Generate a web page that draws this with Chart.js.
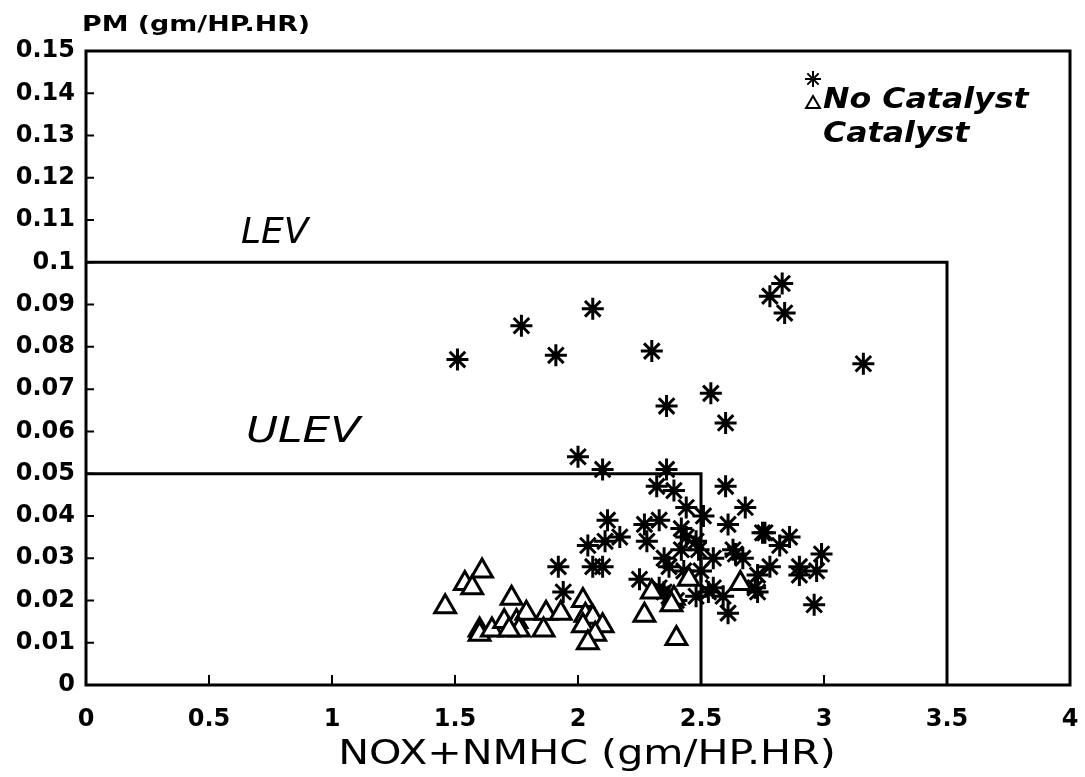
<!DOCTYPE html>
<html>
<head>
<meta charset="utf-8">
<title>PM vs NOX+NMHC</title>
<script src="https://cdn.jsdelivr.net/npm/chart.js@4.4.1/dist/chart.umd.min.js"></script>
<style>
    html, body { margin: 0; padding: 0; background: #fff; overflow: hidden; }
    #wrap { position: absolute; left: 0; top: 0; width: 1085px; height: 777px; }
</style>
</head>
<body>
<div id="wrap"><canvas id="emissionChart"></canvas></div>
<script>
/* ===== DATA ===== */
// No Catalyst (asterisks)
const noCatX = [1.51, 1.77, 1.91, 2.06, 2.30, 2.36, 2.54, 2.60, 3.16, 2.78, 2.84, 2.83,
    2.00, 2.10, 2.36, 2.32, 2.39, 2.60, 2.44, 2.51, 2.68, 2.61, 2.75, 2.12, 2.17, 2.11,
    2.10, 2.27, 2.33, 2.28, 2.42, 2.44, 2.49, 2.35, 2.37, 2.43, 2.50, 2.25, 2.35, 2.40,
    2.48, 2.55, 2.59, 2.61, 2.64, 2.72, 2.86, 2.82, 2.99, 2.90, 2.97, 2.90, 2.78, 2.73,
    2.73, 2.96, 2.67, 2.63, 2.04, 2.06, 1.92, 1.94, 2.48, 2.53, 2.37, 2.33, 2.55, 2.42, 2.76];
const noCatY = [0.077, 0.085, 0.078, 0.089, 0.079, 0.066, 0.069, 0.062, 0.076, 0.092, 0.088, 0.095,
    0.054, 0.051, 0.051, 0.047, 0.046, 0.047, 0.042, 0.040, 0.042, 0.038, 0.036, 0.039, 0.035, 0.034,
    0.028, 0.038, 0.039, 0.034, 0.037, 0.035, 0.032, 0.030, 0.028, 0.027, 0.027, 0.025, 0.022, 0.020,
    0.021, 0.023, 0.021, 0.017, 0.031, 0.023, 0.035, 0.033, 0.031, 0.028, 0.027, 0.026, 0.028, 0.026,
    0.022, 0.019, 0.030, 0.032, 0.033, 0.028, 0.028, 0.022, 0.034, 0.022, 0.021, 0.023, 0.030, 0.032, 0.036];

// Catalyst (triangles)
const catX = [1.46, 1.54, 1.57, 1.61, 1.60, 1.60, 1.65, 1.73, 1.70, 1.75, 1.79, 1.76, 1.72, 1.87, 1.86,
    1.93, 2.02, 2.03, 2.06, 2.02, 2.10, 2.07, 2.04, 2.27, 2.40, 2.30, 2.66, 2.39, 2.38, 2.45];
const catY = [0.0185, 0.024, 0.023, 0.027, 0.013, 0.012, 0.013, 0.0205, 0.015, 0.015, 0.017, 0.013, 0.013, 0.017, 0.013,
    0.017, 0.020, 0.0165, 0.016, 0.014, 0.014, 0.012, 0.010, 0.0165, 0.011, 0.022, 0.024, 0.0205, 0.019, 0.025];

// Standard limit boxes
const levX = [0, 3.5, 3.5];
const levY = [0.1, 0.1, 0];
const ulevX = [0, 2.5, 2.5];
const ulevY = [0.05, 0.05, 0];

// Tick labels
const xTickLabels = ['0', '0.5', '1', '1.5', '2', '2.5', '3', '3.5', '4'];
const yTickLabels = ['0', '0.01', '0.02', '0.03', '0.04', '0.05', '0.06', '0.07', '0.08',
    '0.09', '0.1', '0.11', '0.12', '0.13', '0.14', '0.15'];

/* ===== HELPERS ===== */
function toPoints(xs, ys) {
    return xs.map((x, i) => ({ x: x, y: ys[i] }));
}

// text stretched sideways to mimic the wide scanned font
function wideText(ctx, text, x, y, font, stretch, align) {
    ctx.save();
    ctx.font = font;
    ctx.fillStyle = '#000';
    ctx.textBaseline = 'alphabetic';
    ctx.textAlign = align || 'left';
    ctx.translate(x, y);
    ctx.scale(stretch, 1);
    ctx.fillText(text, 0, 0);
    ctx.restore();
}

function drawAsterisk(ctx, cx, cy, r) {
    ctx.beginPath();
    for (let k = 0; k < 4; k++) {
        const a = k * Math.PI / 4;
        ctx.moveTo(cx - r * Math.cos(a), cy - r * Math.sin(a));
        ctx.lineTo(cx + r * Math.cos(a), cy + r * Math.sin(a));
    }
    ctx.stroke();
}

function drawTriangle(ctx, cx, cy, r) {
    ctx.beginPath();
    ctx.moveTo(cx, cy - r);
    ctx.lineTo(cx + r * 0.866, cy + r * 0.5);
    ctx.lineTo(cx - r * 0.866, cy + r * 0.5);
    ctx.closePath();
    ctx.fillStyle = '#fff';
    ctx.fill();
    ctx.stroke();
}

/* ===== PLUGIN: frame, ticks, labels, legend ===== */
const decorPlugin = {
    id: 'decor',
    beforeDatasetsDraw(chart) {
        const { ctx, chartArea: a, scales: { x, y } } = chart;
        ctx.save();
        ctx.strokeStyle = '#000';
        ctx.lineWidth = 3;
        ctx.strokeRect(a.left, a.top, a.right - a.left, a.bottom - a.top);

        // short inward ticks on the left axis
        ctx.lineWidth = 2;
        ctx.beginPath();
        for (let i = 1; i < yTickLabels.length - 1; i++) {
            const py = y.getPixelForValue(i * 0.01);
            ctx.moveTo(a.left, py);
            ctx.lineTo(a.left + 8, py);
        }
        // short upward ticks on the bottom axis
        [0.5, 1, 1.5, 2, 3].forEach(v => {
            const px = x.getPixelForValue(v);
            ctx.moveTo(px, a.bottom);
            ctx.lineTo(px, a.bottom - 10);
        });
        ctx.stroke();
        ctx.restore();
    },
    afterDraw(chart) {
        const { ctx, chartArea: a, scales: { x, y } } = chart;

        // axis titles
        wideText(ctx, 'PM (gm/HP.HR)', a.left - 4, 31, 'bold 21px "DejaVu Sans"', 1.28);
        wideText(ctx, 'NOX+NMHC (gm/HP.HR)', 587, 764, '33px "DejaVu Sans"', 1.25, 'center');

        // LEV / ULEV labels
        wideText(ctx, 'LEV', x.getPixelForValue(0.63), y.getPixelForValue(0.1045),
            'oblique 36px "DejaVu Sans"', 1.0);
        wideText(ctx, 'ULEV', x.getPixelForValue(0.65), y.getPixelForValue(0.0575),
            'oblique 36px "DejaVu Sans"', 1.22);

        // legend
        ctx.save();
        ctx.strokeStyle = '#000';
        ctx.lineWidth = 2;
        drawAsterisk(ctx, 813, 79, 8);
        drawTriangle(ctx, 813, 104, 8);
        ctx.restore();
        wideText(ctx, 'No Catalyst', 823, 108, 'bold oblique 28px "DejaVu Sans"', 1.13);
        wideText(ctx, 'Catalyst', 823, 142, 'bold oblique 28px "DejaVu Sans"', 1.13);
    }
};

/* ===== CHART ===== */
const ctx = document.getElementById('emissionChart').getContext('2d');

new Chart(ctx, {
    type: 'scatter',
    data: {
        datasets: [
            {
                label: 'No Catalyst',
                data: toPoints(noCatX, noCatY),
                pointStyle: 'star',
                pointRadius: 11,
                borderColor: '#000',
                backgroundColor: '#000',
                borderWidth: 3,
                order: 2
            },
            {
                label: 'Catalyst',
                data: toPoints(catX, catY),
                pointStyle: 'triangle',
                pointRadius: 12,
                borderColor: '#000',
                backgroundColor: '#fff',
                borderWidth: 3,
                order: 1
            },
            {
                label: 'LEV',
                data: toPoints(levX, levY),
                showLine: true,
                pointRadius: 0,
                borderColor: '#000',
                borderWidth: 3,
                order: 3
            },
            {
                label: 'ULEV',
                data: toPoints(ulevX, ulevY),
                showLine: true,
                pointRadius: 0,
                borderColor: '#000',
                borderWidth: 3,
                order: 3
            }
        ]
    },
    options: {
        responsive: true,
        maintainAspectRatio: false,
        animation: false,
        layout: { padding: { top: 51, right: 13, left: 0, bottom: 0 } },
        plugins: {
            legend: { display: false },
            tooltip: { enabled: false }
        },
        scales: {
            x: {
                type: 'linear',
                min: 0,
                max: 4,
                grid: { display: false, drawTicks: false },
                border: { display: false },
                ticks: {
                    stepSize: 0.5,
                    autoSkip: false,
                    maxRotation: 0,
                    padding: 20,
                    color: '#000',
                    font: { family: 'DejaVu Sans', size: 24, weight: 'bold' },
                    callback: function(value, index) {
                        return xTickLabels[index];
                    }
                },
                afterFit: function(scale) {
                    scale.height = 92;
                    scale.paddingLeft = 0;
                    scale.paddingRight = 0;
                }
            },
            y: {
                type: 'linear',
                min: 0,
                max: 0.15,
                grid: { display: false, drawTicks: false },
                border: { display: false },
                ticks: {
                    stepSize: 0.01,
                    autoSkip: false,
                    padding: 11,
                    color: '#000',
                    font: { family: 'DejaVu Sans', size: 24, weight: 'bold' },
                    callback: function(value, index) {
                        return yTickLabels[index];
                    }
                },
                afterFit: function(scale) {
                    scale.width = 86;
                    scale.paddingTop = 0;
                    scale.paddingBottom = 0;
                }
            }
        }
    },
    plugins: [decorPlugin]
});
</script>
</body>
</html>
